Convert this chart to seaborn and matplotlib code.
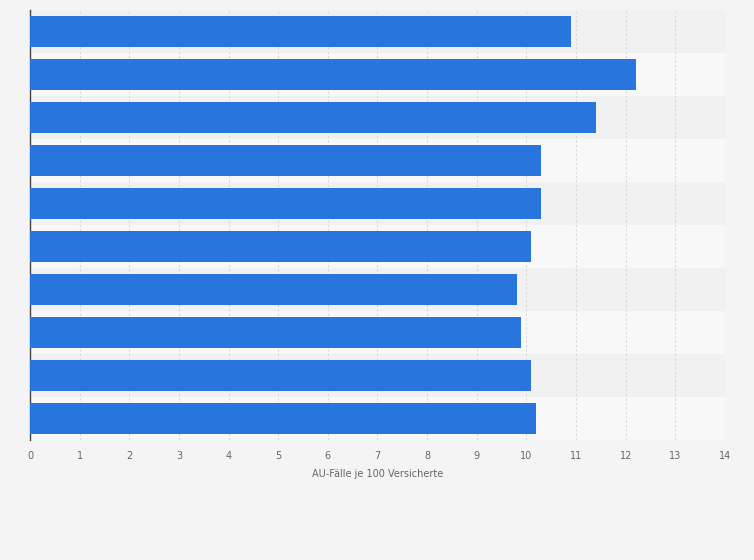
import matplotlib
matplotlib.use("Agg")
import matplotlib.pyplot as plt
import seaborn as sns
import pandas as pd

categories = [f"K{i}" for i in range(10)]
values = [10.9, 12.2, 11.4, 10.3, 10.3, 10.1, 9.8, 9.9, 10.1, 10.2]
xticks = list(range(0, 15))

df = pd.DataFrame({"cat": categories, "val": values})
fig = plt.figure(figsize=(7.54, 5.6), dpi=100, facecolor="#f4f4f4")
ax = fig.add_axes([30/754, 1-440/560, 695/754, 430/560])
ax.set_facecolor("#f4f4f4")
for i in range(len(categories)):
    ax.axhspan(i-0.5, i+0.5, color="#f1f1f1" if i % 2 == 0 else "#f8f8f8", zorder=0, lw=0)
sns.barplot(data=df, x="val", y="cat", orient="h", color="#2876dd", width=0.7, ax=ax, zorder=3, saturation=1)
ax.set_xlim(0, 14)
ax.set_ylim(len(categories)-0.5, -0.5)
ax.set_xticks(xticks)
ax.set_xticklabels([str(t) for t in xticks], fontsize=7, color="#666666")
ax.tick_params(axis="x", length=0, pad=8)
ax.set_yticks([])
ax.set_ylabel("")
ax.set_xlabel("AU-Fälle je 100 Versicherte", fontsize=7, color="#666666", labelpad=6)
ax.grid(axis="x", color="#d8d8d8", linestyle=(0, (2, 2)), lw=0.8, zorder=1)
ax.set_axisbelow(True)
for s in ["top", "right", "bottom"]:
    ax.spines[s].set_visible(False)
ax.spines["left"].set_color("#444444")
ax.spines["left"].set_linewidth(1)
fig.savefig("out.png", dpi=100, facecolor=fig.get_facecolor())
